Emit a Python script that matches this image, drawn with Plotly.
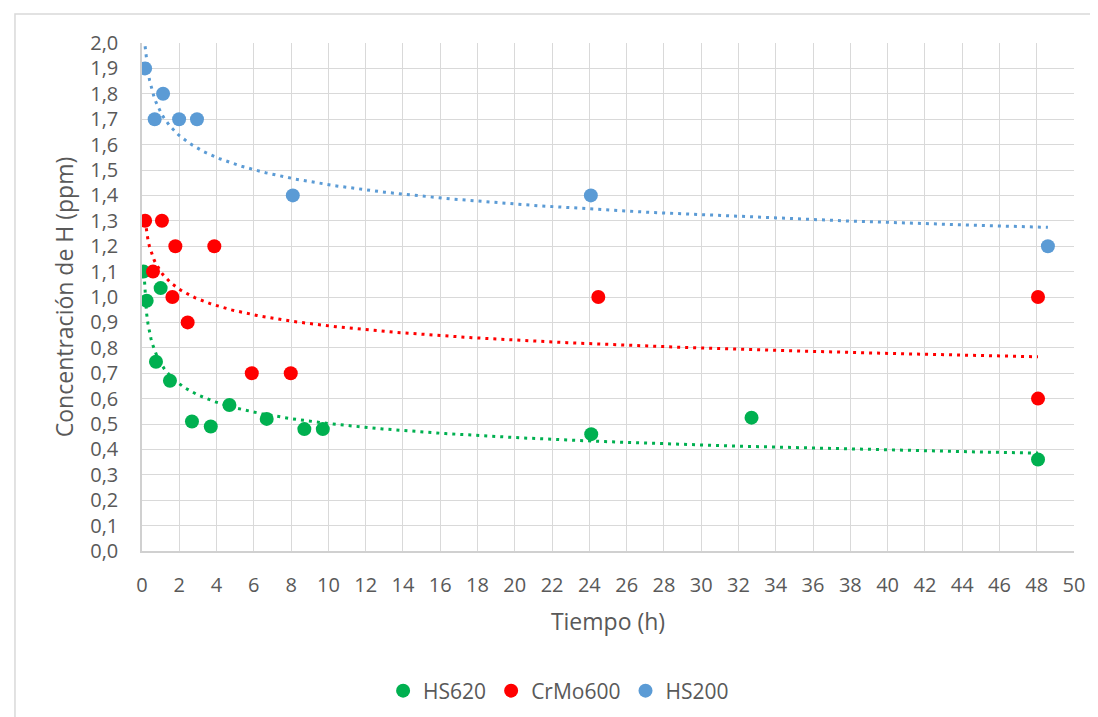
import numpy as np
import plotly.graph_objects as go

# Data
hs620_t = [0.083, 0.25, 0.75, 1.0, 1.50, 2.68, 3.69, 4.69, 6.69, 8.71, 9.70, 24.1, 32.7, 48.07]
hs620_c = [1.10, 0.985, 0.745, 1.035, 0.67, 0.51, 0.49, 0.575, 0.52, 0.48, 0.48, 0.46, 0.525, 0.36]

crmo600_t = [0.167, 0.59, 1.07, 1.63, 1.79, 2.45, 3.88, 5.89, 7.98, 24.48, 48.07, 48.07]
crmo600_c = [1.30, 1.10, 1.30, 1.00, 1.20, 0.90, 1.20, 0.70, 0.70, 1.00, 1.00, 0.60]

hs200_t = [0.167, 0.68, 1.13, 1.99, 2.95, 8.09, 24.08, 48.6]
hs200_c = [1.90, 1.70, 1.80, 1.70, 1.70, 1.40, 1.40, 1.20]

series_names = ["HS620", "CrMo600", "HS200"]
series_colors = ["#00B050", "#FF0000", "#5B9BD5"]

y_ticks = [round(i * 0.1, 1) for i in range(21)]
x_ticks = list(range(0, 51, 2))

FONT = "Open Sans"
GREY = "#595959"

fig = go.Figure()

datasets = [(hs620_t, hs620_c), (crmo600_t, crmo600_c), (hs200_t, hs200_c)]

# Power trendlines (least squares on log-log, as in Excel)
for (t, c), name, col in zip(datasets, series_names, series_colors):
    t_arr = np.array(t)
    c_arr = np.array(c)
    k, lnA = np.polyfit(np.log(t_arr), np.log(c_arr), 1)
    xs = np.linspace(t_arr.min(), t_arr.max(), 600)
    ys = np.exp(lnA) * xs ** k
    fig.add_trace(go.Scatter(
        x=xs, y=ys, mode="lines", showlegend=False, hoverinfo="skip",
        line=dict(color=col, width=3, dash="3px,5px"),
    ))

for (t, c), name, col in zip(datasets, series_names, series_colors):
    fig.add_trace(go.Scatter(
        x=t, y=c, mode="markers", name=name,
        marker=dict(color=col, size=14, line=dict(width=0)),
    ))

fig.update_layout(
    width=1098, height=717,
    margin=dict(l=134, r=32, t=35, b=174),
    paper_bgcolor="white", plot_bgcolor="white",
    separators=",.",
    font=dict(family=FONT, size=20, color=GREY),
    legend=dict(
        orientation="h", x=0.447, xanchor="center", y=-0.2756, yanchor="middle",
        font=dict(family=FONT, size=21, color=GREY),
        itemwidth=30, bgcolor="rgba(0,0,0,0)",
    ),
    xaxis=dict(
        range=[0, 50], tickvals=x_ticks, ticktext=[str(v) for v in x_ticks],
        showgrid=True, gridcolor="#D9D9D9", gridwidth=1.3,
        showline=True, linecolor="#D0D0D0", linewidth=1.5, mirror=False,
        zeroline=False, ticks="outside", ticklen=15, tickcolor="rgba(0,0,0,0)",
        tickfont=dict(family=FONT, size=20, color=GREY),
        title=dict(text="Tiempo (h)", font=dict(family=FONT, size=23, color=GREY), standoff=17),
    ),
    yaxis=dict(
        range=[0, 2.0], tickvals=y_ticks, tickformat=".1f",
        showgrid=True, gridcolor="#D9D9D9", gridwidth=1.3,
        showline=True, linecolor="#D0D0D0", linewidth=1.5,
        zeroline=False, ticks="outside", ticklen=18, tickcolor="rgba(0,0,0,0)",
        tickfont=dict(family=FONT, size=20, color=GREY),
        title=dict(text="Concentración de H (ppm)", font=dict(family=FONT, size=23, color=GREY), standoff=10),
    ),
    shapes=[
        dict(type="rect", xref="paper", yref="paper", x0=-0.1363, x1=1.0333, y0=-0.3406, y1=1.0571,
             line=dict(color="#D9D9D9", width=1.5), fillcolor="rgba(0,0,0,0)", layer="below"),
    ],
)

fig.write_html("out.html")
